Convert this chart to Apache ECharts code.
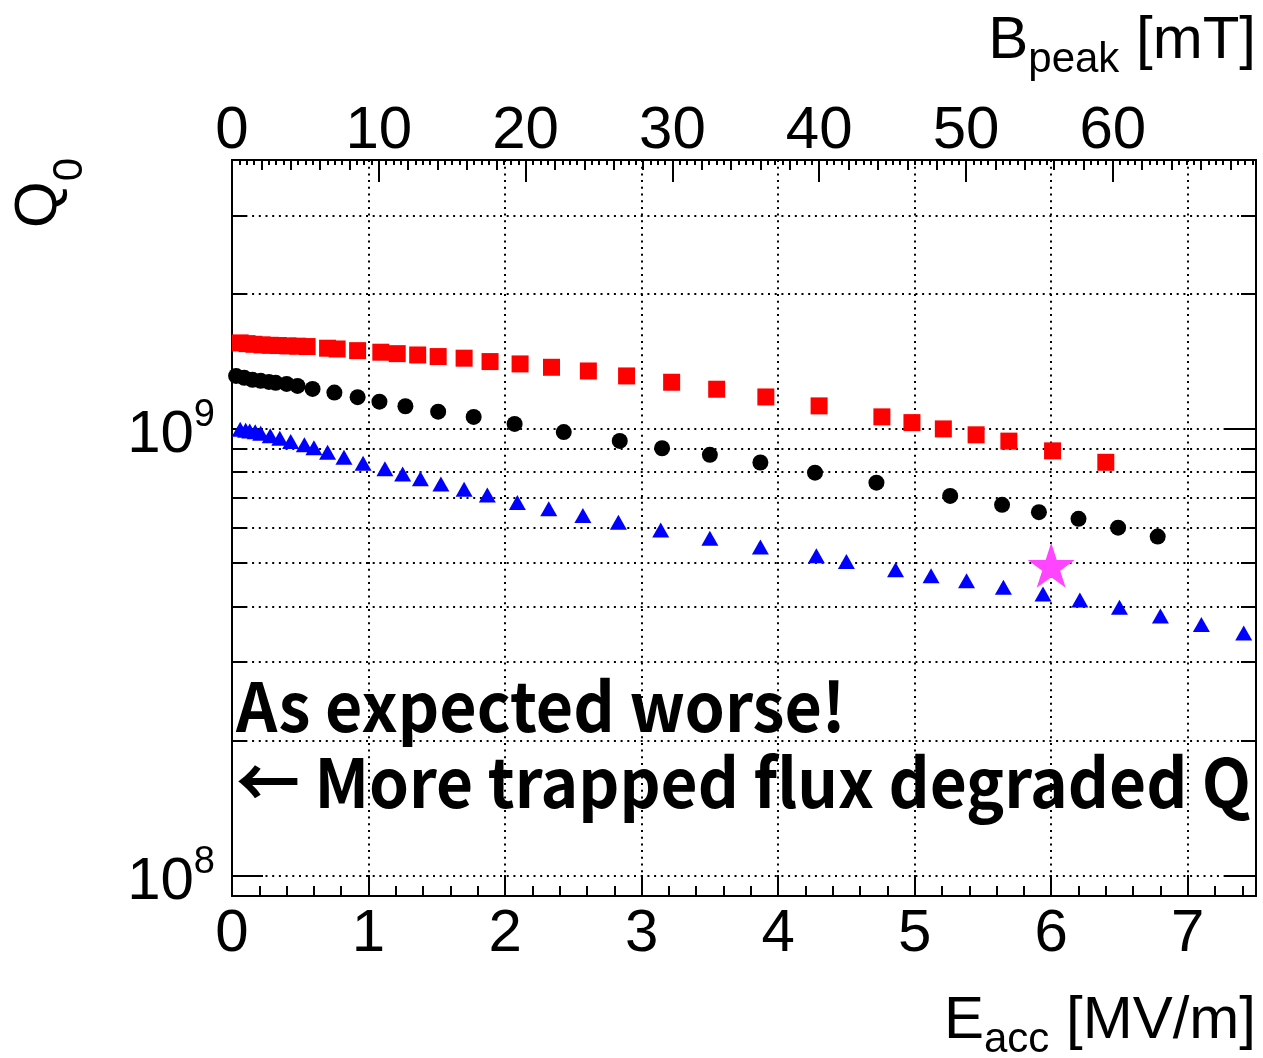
<!DOCTYPE html>
<html><head><meta charset="utf-8">
<script src="https://cdn.jsdelivr.net/npm/echarts@6/dist/echarts.min.js"></script>
<style>html,body{margin:0;padding:0;background:#fff}#c{width:1263px;height:1058px}</style>
</head><body><div id="c"></div><script>
// ---- data ----
const eRed = [0.06, 0.11, 0.16, 0.22, 0.28, 0.34, 0.41, 0.48, 0.55, 0.70, 0.77, 0.92, 1.09, 1.21, 1.36, 1.51, 1.70, 1.89, 2.11, 2.34, 2.61, 2.89, 3.22, 3.55, 3.91, 4.30, 4.76, 4.98, 5.21, 5.45, 5.69, 6.01, 6.40];
const qRed = [1.558e9, 1.552e9, 1.547e9, 1.542e9, 1.539e9, 1.537e9, 1.534e9, 1.532e9, 1.529e9, 1.516e9, 1.510e9, 1.497e9, 1.485e9, 1.474e9, 1.464e9, 1.452e9, 1.440e9, 1.415e9, 1.398e9, 1.374e9, 1.348e9, 1.314e9, 1.272e9, 1.227e9, 1.179e9, 1.126e9, 1.064e9, 1.033e9, 1.000e9, 0.970e9, 0.939e9, 0.893e9, 0.842e9];
const eBlack = [0.03, 0.09, 0.15, 0.21, 0.27, 0.32, 0.40, 0.48, 0.59, 0.75, 0.92, 1.08, 1.27, 1.51, 1.77, 2.07, 2.43, 2.84, 3.15, 3.50, 3.87, 4.27, 4.72, 5.26, 5.64, 5.91, 6.20, 6.49, 6.78];
const qBlack = [1.314e9, 1.301e9, 1.288e9, 1.281e9, 1.274e9, 1.268e9, 1.261e9, 1.248e9, 1.229e9, 1.206e9, 1.178e9, 1.151e9, 1.124e9, 1.093e9, 1.064e9, 1.026e9, 0.984e9, 0.940e9, 0.905e9, 0.875e9, 0.841e9, 0.798e9, 0.758e9, 0.708e9, 0.676e9, 0.651e9, 0.629e9, 0.601e9, 0.574e9];
const eBlue = [0.06, 0.10, 0.13, 0.17, 0.21, 0.28, 0.35, 0.43, 0.53, 0.60, 0.70, 0.82, 0.96, 1.12, 1.25, 1.38, 1.53, 1.70, 1.87, 2.09, 2.32, 2.57, 2.83, 3.14, 3.50, 3.87, 4.28, 4.50, 4.86, 5.12, 5.38, 5.65, 5.94, 6.21, 6.50, 6.80, 7.10, 7.41];
const qBlue = [0.998e9, 0.993e9, 0.989e9, 0.985e9, 0.978e9, 0.965e9, 0.953e9, 0.937e9, 0.921e9, 0.908e9, 0.887e9, 0.864e9, 0.838e9, 0.814e9, 0.793e9, 0.773e9, 0.753e9, 0.733e9, 0.711e9, 0.684e9, 0.663e9, 0.640e9, 0.618e9, 0.594e9, 0.569e9, 0.544e9, 0.520e9, 0.505e9, 0.484e9, 0.469e9, 0.457e9, 0.442e9, 0.427e9, 0.414e9, 0.399e9, 0.381e9, 0.365e9, 0.349e9];
const eStar = [6.0];
const qStar = [5.0e8];

// axes
const eRange = [0, 7.5];
const bRange = [0, 69.75];
const qRange = [9e7, 4e9];
const yMajorTicks = [1e8, 1e9];
const yMinorTicks = [2e8, 3e8, 4e8, 5e8, 6e8, 7e8, 8e8, 9e8, 2e9, 3e9];

const textLines = ['As expected worse!', '\u2190 More trapped flux degraded Q'];

// ---- chart ----
const FONT = 'Liberation Sans';
const DOT = [2, 4.7];
const chart = echarts.init(document.getElementById('c'), null, {renderer: 'canvas'});
const zip = (a, b) => a.map((v, i) => [v, b[i]]);
const starPath = 'path://M50 0 L61.23 34.55 L97.55 34.55 L68.16 55.9 L79.39 90.45 L50 69.1 L20.61 90.45 L31.84 55.9 L2.45 34.55 L38.77 34.55 Z';

function yTickSeries(values, len) {
  return {
    type: 'custom', coordinateSystem: 'cartesian2d', xAxisIndex: 0, yAxisIndex: 0,
    dimensions: ['q'], encode: {y: 0}, data: values.map(v => [v]),
    silent: true, z: 1, clip: false,
    renderItem: function (params, api) {
      const cs = params.coordSys;
      const y = Math.round(api.coord([0, api.value(0)])[1]);
      return {type: 'group', children: [
        {type: 'line', shape: {x1: cs.x, y1: y, x2: cs.x + cs.width, y2: y}, style: {stroke: '#000', lineWidth: 2, lineDash: DOT}},
        {type: 'line', shape: {x1: cs.x, y1: y, x2: cs.x + len, y2: y}, style: {stroke: '#000', lineWidth: 2}},
        {type: 'line', shape: {x1: cs.x + cs.width - len, y1: y, x2: cs.x + cs.width, y2: y}, style: {stroke: '#000', lineWidth: 2}}
      ]};
    }
  };
}

const titleRich = (subH) => ({
  m: {fontSize: 60, fontFamily: FONT, color: '#000', height: 60, lineHeight: 60},
  s: {fontSize: 42, fontFamily: FONT, color: '#000', verticalAlign: 'top', height: subH, lineHeight: 60}
});

const option = {
  animation: false,
  backgroundColor: '#fff',
  grid: {left: 232, top: 160, width: 1024, height: 736, show: true, borderColor: '#000', borderWidth: 2, backgroundColor: 'transparent'},
  xAxis: [
    {
      type: 'value', position: 'bottom', min: eRange[0], max: eRange[1], interval: 1,
      axisLine: {show: false},
      axisTick: {show: true, inside: true, length: 21, lineStyle: {color: '#000', width: 2}},
      minorTick: {show: true, splitNumber: 5, length: 10, lineStyle: {color: '#000', width: 2}},
      splitLine: {show: true, lineStyle: {color: '#000', width: 2, type: DOT}},
      axisLabel: {margin: 8, fontSize: 60, fontFamily: FONT, color: '#000',
        formatter: v => Number.isInteger(v) ? String(v) : ''}
    },
    {
      type: 'value', position: 'top', min: bRange[0], max: bRange[1], interval: 10,
      axisLine: {show: false},
      axisTick: {show: true, inside: true, length: 22, lineStyle: {color: '#000', width: 2}},
      minorTick: {show: true, splitNumber: 20, length: 5, lineStyle: {color: '#000', width: 2}},
      splitLine: {show: false},
      axisLabel: {margin: -1, fontSize: 60, fontFamily: FONT, color: '#000',
        formatter: v => (Math.abs(v % 10) < 1e-9) ? String(v) : ''}
    },
    {
      type: 'value', position: 'top', min: bRange[0], max: bRange[1], interval: 2,
      axisLine: {show: false},
      axisTick: {show: true, inside: true, length: 10, lineStyle: {color: '#000', width: 2}},
      splitLine: {show: false},
      axisLabel: {show: false}
    }
  ],
  yAxis: {
    type: 'log', logBase: 10, min: qRange[0], max: qRange[1],
    axisLine: {show: false}, axisTick: {show: false}, splitLine: {show: false}, minorTick: {show: false},
    axisLabel: {
      margin: 17, padding: [14, 0, 0, 0], fontSize: 60, fontFamily: FONT, color: '#000',
      formatter: v => {
        const e = Math.log10(v);
        if (Math.abs(e - Math.round(e)) > 1e-6) return '';
        return '{b|10}{s|' + Math.round(e) + '}';
      },
      rich: {
        b: {fontSize: 60, fontFamily: FONT, color: '#000', height: 60, lineHeight: 60},
        s: {fontSize: 38, fontFamily: FONT, color: '#000', verticalAlign: 'top', height: 20, lineHeight: 20}
      }
    }
  },
  series: [
    yTickSeries(yMinorTicks, 15),
    yTickSeries(yMajorTicks, 31),
    {type: 'scatter', data: zip(eRed, qRed), symbol: 'rect', symbolSize: 17, itemStyle: {color: '#ff0000', opacity: 1}, z: 3, silent: true},
    {type: 'scatter', data: zip(eBlack, qBlack), symbol: 'circle', symbolSize: 16, itemStyle: {color: '#000000', opacity: 1}, z: 3, silent: true},
    {type: 'scatter', data: zip(eBlue, qBlue), symbol: 'triangle', symbolSize: [17, 15], itemStyle: {color: '#0000ff', opacity: 1}, z: 3, silent: true},
    {type: 'scatter', data: zip(eStar, qStar), symbol: starPath, symbolSize: [47, 45], symbolOffset: [0, 2], itemStyle: {color: '#ff45ff', opacity: 1}, z: 4, silent: true}
  ],
  graphic: [
    {type: 'text', x: 1256, y: 11, silent: true, style: {text: '{m|B}{s|peak}{m| [mT]}', align: 'right', textAlign: 'right', verticalAlign: 'top', textVerticalAlign: 'top', rich: titleRich(98)}},
    {type: 'text', x: 1256, y: 991, silent: true, style: {text: '{m|E}{s|acc}{m| [MV/m]}', align: 'right', textAlign: 'right', verticalAlign: 'top', textVerticalAlign: 'top', rich: titleRich(98)}},
    {type: 'text', x: 9, y: 158, rotation: Math.PI / 2, silent: true, style: {text: '{m|Q}{s|0}', align: 'right', textAlign: 'right', verticalAlign: 'top', textVerticalAlign: 'top', rich: titleRich(122)}},
    {type: 'text', x: 236, y: 672, scaleX: 0.948, silent: true, z: 10, style: {text: textLines[0], font: 'bold 68px "Noto Sans CJK JP"', fill: '#000', align: 'left', textAlign: 'left', verticalAlign: 'top', textVerticalAlign: 'top'}},
    {type: 'text', x: 236, y: 748, scaleX: 0.94, silent: true, z: 10, style: {text: textLines[1], font: 'bold 68px "Noto Sans CJK JP"', fill: '#000', align: 'left', textAlign: 'left', verticalAlign: 'top', textVerticalAlign: 'top'}}
  ]
};
chart.setOption(option);
</script></body></html>
